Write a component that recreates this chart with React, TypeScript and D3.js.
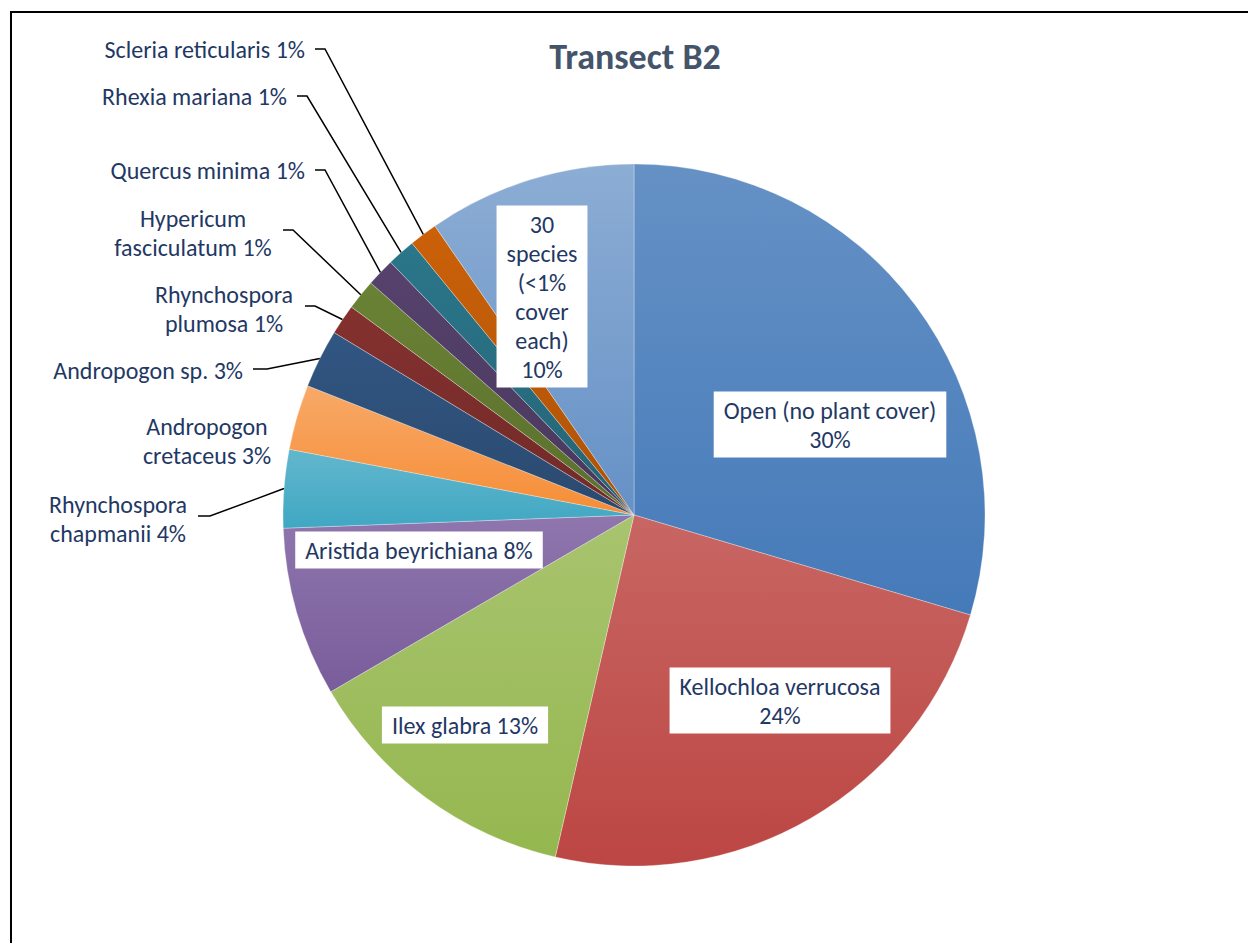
import { useEffect, useRef } from 'react'
import * as d3 from 'd3'

// slice data, clockwise from 12 o'clock
const names = [
  'Open (no plant cover)',
  'Kellochloa verrucosa',
  'Ilex glabra',
  'Aristida beyrichiana',
  'Rhynchospora\nchapmanii',
  'Andropogon\ncretaceus',
  'Andropogon sp.',
  'Rhynchospora\nplumosa',
  'Hypericum\nfasciculatum',
  'Quercus minima',
  'Rhexia mariana',
  'Scleria reticularis',
  '30\nspecies\n(<1%\ncover\neach)',
]
const cover = [29.6, 24.0, 13.0, 7.8, 3.6, 3.0, 2.7, 1.4, 1.4, 1.3, 1.3, 1.3, 9.6]
const colors = [
  '#4F81BD', '#C0504D', '#9BBB59', '#8064A2', '#4BACC6', '#F79646',
  '#2C4D75', '#772C2A', '#5F7530', '#4D3B62', '#276A7C', '#B65708', '#729ACA',
]

// label placement (layout only)
type Lbl = {
  x: number; y: number; anchor: string; boxed?: boolean; pctOwnLine?: boolean
  leader?: [number, number, number]
}
const labelLayout: Lbl[] = [
  { x: 830, y: 410, anchor: 'middle', boxed: true, pctOwnLine: true },
  { x: 780, y: 686, anchor: 'middle', boxed: true, pctOwnLine: true },
  { x: 465, y: 725, anchor: 'middle', boxed: true },
  { x: 419, y: 550, anchor: 'middle', boxed: true },
  { x: 118, y: 504, anchor: 'middle', leader: [198, 210, 516] },
  { x: 207, y: 426, anchor: 'middle' },
  { x: 243, y: 370, anchor: 'end', leader: [253, 267, 369] },
  { x: 224, y: 294, anchor: 'middle', leader: [305, 315, 306] },
  { x: 193, y: 218, anchor: 'middle', leader: [283, 293, 230] },
  { x: 305, y: 170, anchor: 'end', leader: [315, 325, 170] },
  { x: 287, y: 96, anchor: 'end', leader: [297, 307, 96] },
  { x: 305, y: 49, anchor: 'end', leader: [315, 325, 49] },
  { x: 542, y: 224, anchor: 'middle', boxed: true, pctOwnLine: true },
]

const W = 1248
const H = 943
const cx = 634
const cy = 515
const R = 351
const FONT = "Carlito, Calibri, Lato, 'Open Sans', sans-serif"
const LINE_H = 29

export default function App() {
  const svgRef = useRef<SVGSVGElement>(null)

  useEffect(() => {
    if (!svgRef.current) return
    const svg = d3.select(svgRef.current)
    svg.selectAll('*').remove()

    const defs = svg.append('defs')
    colors.forEach((c, i) => {
      const base = d3.hsl(c)
      const grad = defs.append('linearGradient')
        .attr('id', `g${i}`).attr('x1', 0).attr('y1', 0).attr('x2', 0).attr('y2', 1)
      grad.append('stop').attr('offset', '0%').attr('stop-color', base.brighter(0.3).formatHex())
      grad.append('stop').attr('offset', '100%').attr('stop-color', base.darker(0.15).formatHex())
    })

    // frame
    svg.append('rect')
      .attr('x', 11).attr('y', 12).attr('width', W + 40).attr('height', H + 40)
      .attr('fill', '#fff').attr('stroke', '#000').attr('stroke-width', 2)

    svg.append('text')
      .attr('x', 635).attr('y', 57)
      .attr('text-anchor', 'middle').attr('dominant-baseline', 'central')
      .attr('font-family', FONT).attr('font-weight', 'bold').attr('font-size', 36)
      .attr('fill', '#44546A')
      .text('Transect B2')

    const pie = d3.pie<number>().sort(null).value(d => d)
    const arcs = pie(cover)
    const arc = d3.arc<d3.PieArcDatum<number>>().innerRadius(0).outerRadius(R)
    const edge = d3.arc<d3.PieArcDatum<number>>().innerRadius(R).outerRadius(R)

    const g = svg.append('g').attr('transform', `translate(${cx},${cy})`)
    g.selectAll('path.slice')
      .data(arcs)
      .join('path')
      .attr('class', 'slice')
      .attr('d', arc)
      .attr('fill', (_, i) => `url(#g${i})`)
      .attr('stroke', 'rgba(255,255,255,0.5)')
      .attr('stroke-width', 0.6)

    // leader lines
    arcs.forEach((a, i) => {
      const l = labelLayout[i]
      if (!l.leader) return
      const [ex, ey] = edge.centroid(a)
      const [x0, x1, y] = l.leader
      svg.append('polyline')
        .attr('points', `${x0},${y} ${x1},${y} ${cx + ex},${cy + ey}`)
        .attr('fill', 'none').attr('stroke', '#000').attr('stroke-width', 1.5)
    })

    // labels
    arcs.forEach((a, i) => {
      const l = labelLayout[i]
      const pct = `${Math.round(cover[i])}%`
      const lines = names[i].split('\n')
      if (l.pctOwnLine) lines.push(pct)
      else lines[lines.length - 1] += ` ${pct}`

      const lg = svg.append('g')
      const box = l.boxed ? lg.append('rect').attr('fill', '#fff') : null
      const t = lg.append('text')
        .attr('font-family', FONT).attr('font-size', 24)
        .attr('fill', '#1F3864')
        .attr('text-anchor', l.anchor)
      lines.forEach((s, k) => {
        t.append('tspan')
          .attr('x', l.x).attr('y', l.y + k * LINE_H)
          .attr('dominant-baseline', 'central')
          .text(s)
      })
      if (box) {
        const bb = (t.node() as SVGTextElement).getBBox()
        box.attr('x', bb.x - 10).attr('y', bb.y - 4)
          .attr('width', bb.width + 20).attr('height', bb.height + 8)
      }
    })
  }, [])

  return (
    <svg
      ref={svgRef}
      width={W}
      height={H}
      style={{ position: 'fixed', left: 0, top: 0, background: '#fff' }}
    />
  )
}
